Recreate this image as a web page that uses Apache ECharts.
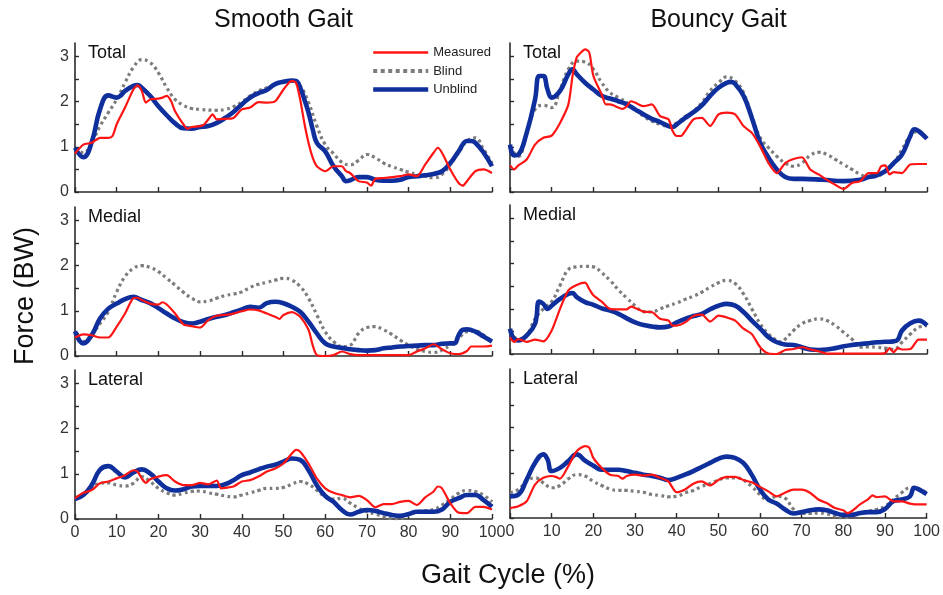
<!DOCTYPE html>
<html>
<head>
<meta charset="utf-8">
<script src="https://cdn.jsdelivr.net/npm/echarts@6/dist/echarts.min.js"></script>
<style>html,body{margin:0;padding:0;background:#fff}#c{width:943px;height:595px}</style>
</head>
<body>
<div id="c"></div>
<script>
// ---------- DATA ----------
const columnTitles = ["Smooth Gait", "Bouncy Gait"];
const rowLabels = ["Total", "Medial", "Lateral"];
const seriesNames = ["Measured", "Blind", "Unblind"];
const xTicks = [0,10,20,30,40,50,60,70,80,90,100];
const yTickLabels = [0,1,2,3];
const yTicks = [0,0.5,1,1.5,2,2.5,3];

// Smooth gait - Total
const smoothTotalMeasured = [[0,0.85],[2,1.05],[4,1.09],[6,1.2],[8,1.2],[9,1.24],[10,1.5],[12,1.87],[14,2.27],[15,2.36],[16,2.24],[17,1.98],[18,2.05],[20,2.07],[21,2.09],[22,2.13],[23,2.02],[24,1.79],[26,1.5],[27,1.4],[28,1.44],[30,1.46],[31,1.5],[32,1.61],[33,1.72],[34,1.61],[36,1.62],[38,1.64],[40,1.83],[42,1.87],[44,1.99],[46,1.98],[48,2.01],[50,2.27],[52,2.46],[53,2.42],[54,2.05],[55,1.53],[56,1.09],[57,0.76],[58,0.57],[60,0.46],[62,0.57],[64,0.57],[65,0.46],[66,0.42],[68,0.24],[70,0.21],[71,0.14],[72,0.29],[74,0.31],[76,0.33],[78,0.35],[80,0.39],[82,0.35],[84,0.61],[86,0.87],[87,0.98],[88,0.87],[90,0.5],[92,0.2],[93,0.14],[94,0.24],[96,0.46],[98,0.5],[100,0.42]];
const smoothTotalBlind = [[0,0.95],[2,0.87],[4,1.09],[6,1.46],[8,1.76],[10,2.05],[12,2.42],[14,2.76],[16,2.93],[18,2.87],[20,2.64],[22,2.31],[24,2.05],[26,1.92],[28,1.85],[30,1.83],[34,1.81],[36,1.83],[38,1.89],[40,1.99],[42,2.13],[44,2.24],[46,2.31],[48,2.39],[50,2.44],[52,2.46],[54,2.35],[56,1.98],[58,1.46],[60,1.05],[62,0.85],[64,0.66],[66,0.6],[68,0.7],[70,0.83],[72,0.76],[74,0.64],[76,0.56],[78,0.5],[80,0.44],[82,0.39],[84,0.35],[86,0.31],[88,0.39],[90,0.61],[92,0.87],[94,1.13],[96,1.2],[98,0.94],[100,0.64]];
const smoothTotalUnblind = [[0,0.98],[2,0.77],[4,1.1],[6,1.83],[8,2.14],[10,2.09],[11,2.14],[12,2.24],[14,2.35],[15,2.37],[16,2.31],[18,2.13],[20,1.9],[22,1.7],[24,1.52],[26,1.41],[28,1.4],[30,1.44],[32,1.46],[34,1.53],[36,1.64],[38,1.77],[40,1.94],[42,2.09],[44,2.19],[46,2.26],[48,2.39],[50,2.44],[52,2.47],[53,2.46],[54,2.31],[55,2.05],[56,1.76],[57,1.39],[58,1.09],[60,0.9],[62,0.57],[64,0.35],[65,0.24],[66,0.26],[68,0.33],[70,0.33],[72,0.27],[74,0.25],[76,0.25],[78,0.27],[80,0.33],[82,0.35],[84,0.37],[86,0.4],[88,0.46],[90,0.64],[92,0.9],[94,1.13],[95,1.13],[96,1.09],[98,0.87],[100,0.57]];

// Bouncy gait - Total
const bouncyTotalMeasured = [[0,0.59],[1,0.5],[2,0.59],[4,0.72],[6,1.05],[8,1.2],[10,1.25],[12,1.53],[14,1.94],[15,2.57],[16,2.98],[17,3.09],[18,3.16],[19,3.09],[20,2.57],[22,2.16],[23,1.94],[24,1.94],[26,1.87],[27,1.84],[28,1.9],[29,2.01],[30,1.98],[32,1.9],[34,1.94],[36,1.68],[38,1.61],[39,1.35],[40,1.24],[41,1.24],[42,1.35],[44,1.61],[46,1.64],[48,1.46],[50,1.72],[52,1.76],[54,1.72],[56,1.46],[58,1.31],[60,1.01],[62,0.64],[64,0.42],[66,0.64],[68,0.73],[70,0.77],[72,0.5],[74,0.39],[76,0.27],[78,0.16],[80,0.07],[82,0.2],[84,0.24],[86,0.42],[88,0.42],[89,0.57],[90,0.59],[91,0.39],[92,0.44],[94,0.42],[96,0.61],[98,0.62],[100,0.62]];
const bouncyTotalBlind = [[0,1.0],[2,0.79],[4,1.31],[6,1.83],[8,1.92],[10,1.87],[12,2.27],[14,2.72],[16,2.9],[18,2.88],[20,2.72],[22,2.42],[24,2.2],[26,2.09],[28,1.98],[30,1.83],[32,1.68],[34,1.57],[36,1.5],[38,1.46],[40,1.53],[42,1.67],[44,1.79],[46,1.98],[48,2.24],[50,2.42],[52,2.55],[54,2.46],[56,2.2],[58,1.68],[60,1.2],[62,0.98],[64,0.79],[66,0.64],[68,0.57],[70,0.64],[72,0.81],[74,0.88],[76,0.83],[78,0.72],[80,0.61],[82,0.5],[84,0.39],[86,0.33],[88,0.35],[90,0.46],[92,0.64],[94,0.94],[96,1.24],[98,1.35],[100,1.16]];
const bouncyTotalUnblind = [[0,1.05],[1,0.81],[2,0.83],[4,1.31],[6,2.05],[7,2.57],[8,2.57],[9,2.27],[10,2.09],[12,2.24],[14,2.61],[15,2.72],[16,2.61],[18,2.42],[20,2.27],[22,2.13],[24,2.07],[26,2.01],[28,1.94],[30,1.83],[32,1.72],[34,1.62],[36,1.55],[38,1.46],[39,1.44],[40,1.5],[42,1.64],[44,1.77],[46,1.92],[48,2.13],[50,2.31],[52,2.42],[53,2.44],[54,2.39],[56,2.13],[58,1.64],[60,1.09],[62,0.76],[64,0.5],[66,0.33],[68,0.29],[70,0.29],[75,0.27],[80,0.24],[84,0.27],[86,0.33],[88,0.37],[90,0.46],[92,0.64],[94,0.83],[96,1.24],[97,1.39],[98,1.35],[100,1.18]];

// Smooth gait - Medial
const smoothMedialMeasured = [[0,0.41],[2,0.48],[4,0.46],[6,0.41],[8,0.41],[10,0.65],[12,0.94],[14,1.28],[15,1.29],[16,1.24],[18,1.16],[20,1.14],[21,1.19],[22,1.14],[24,0.94],[26,0.7],[28,0.66],[30,0.63],[32,0.8],[34,0.89],[36,0.91],[38,0.94],[40,0.99],[42,1.03],[44,1.01],[46,0.94],[48,0.87],[49,0.82],[50,0.91],[52,0.97],[54,0.87],[56,0.58],[57,0.24],[58,0.02],[60,0.0],[62,0.02],[64,0.1],[66,0.04],[68,0.02],[72,0.02],[76,0.02],[80,0.02],[82,0.1],[84,0.17],[86,0.26],[88,0.15],[90,0.06],[92,0.04],[94,0.11],[95,0.21],[96,0.21],[98,0.21],[100,0.23]];
const smoothMedialBlind = [[0,0.54],[2,0.32],[4,0.48],[6,0.72],[8,0.98],[10,1.42],[12,1.76],[14,1.94],[16,2.0],[18,1.96],[20,1.87],[22,1.72],[24,1.57],[26,1.41],[28,1.28],[30,1.2],[32,1.22],[34,1.28],[36,1.34],[38,1.37],[40,1.42],[42,1.52],[44,1.59],[46,1.63],[48,1.68],[50,1.72],[52,1.68],[54,1.54],[56,1.28],[58,0.91],[60,0.54],[62,0.32],[64,0.21],[66,0.24],[68,0.5],[70,0.63],[72,0.65],[74,0.58],[76,0.48],[78,0.35],[80,0.24],[82,0.15],[84,0.1],[86,0.08],[88,0.13],[90,0.24],[92,0.39],[94,0.54],[96,0.55],[98,0.46],[100,0.32]];
const smoothMedialUnblind = [[0,0.55],[2,0.28],[4,0.46],[6,0.83],[8,1.05],[10,1.16],[12,1.26],[14,1.31],[16,1.24],[18,1.17],[20,1.06],[22,0.94],[24,0.83],[26,0.75],[28,0.72],[30,0.76],[32,0.82],[34,0.87],[36,0.91],[38,0.97],[40,1.03],[42,1.09],[44,1.07],[46,1.17],[48,1.2],[50,1.17],[52,1.09],[54,0.98],[56,0.76],[58,0.5],[60,0.28],[62,0.21],[64,0.18],[66,0.15],[68,0.13],[70,0.12],[72,0.13],[74,0.17],[76,0.19],[78,0.21],[80,0.22],[82,0.23],[84,0.24],[86,0.24],[88,0.27],[90,0.28],[91,0.28],[92,0.46],[93,0.58],[94,0.59],[96,0.54],[98,0.43],[100,0.32]];

// Bouncy gait - Medial
const bouncyMedialMeasured = [[0,0.37],[1,0.27],[2,0.33],[4,0.27],[6,0.32],[8,0.28],[10,0.52],[12,1.0],[14,1.41],[16,1.53],[18,1.58],[19,1.44],[20,1.3],[22,1.16],[24,1.0],[26,0.99],[28,0.99],[29,1.05],[30,1.02],[32,0.94],[34,0.93],[36,0.78],[38,0.74],[39,0.63],[40,0.63],[42,0.7],[44,0.84],[46,0.87],[48,0.72],[50,0.85],[52,0.81],[54,0.74],[56,0.56],[58,0.44],[60,0.15],[62,0.01],[64,0.0],[66,0.09],[68,0.11],[70,0.15],[72,0.1],[74,0.06],[76,0.01],[80,0.01],[84,0.01],[88,0.01],[90,0.02],[91,0.13],[92,0.04],[93,0.13],[94,0.1],[96,0.11],[98,0.32],[100,0.32]];
const bouncyMedialBlind = [[0,0.48],[2,0.33],[4,0.41],[6,0.78],[8,1.0],[10,1.16],[12,1.52],[14,1.87],[16,1.93],[18,1.94],[20,1.93],[22,1.8],[24,1.63],[26,1.42],[28,1.24],[30,1.07],[32,0.94],[34,0.93],[36,1.0],[38,1.07],[40,1.13],[42,1.21],[44,1.28],[46,1.37],[48,1.48],[50,1.58],[52,1.63],[54,1.56],[56,1.33],[58,1.0],[60,0.67],[62,0.44],[64,0.3],[65,0.27],[66,0.33],[68,0.52],[70,0.67],[72,0.74],[74,0.78],[76,0.74],[78,0.63],[80,0.48],[82,0.33],[84,0.15],[86,0.16],[88,0.15],[90,0.13],[92,0.1],[94,0.26],[96,0.44],[98,0.59],[100,0.63]];
const bouncyMedialUnblind = [[0,0.56],[1,0.33],[2,0.3],[4,0.41],[6,0.67],[7,1.16],[8,1.11],[9,1.0],[10,1.07],[12,1.22],[14,1.33],[15,1.35],[16,1.26],[18,1.15],[20,1.09],[22,1.01],[24,0.96],[26,0.89],[28,0.79],[30,0.7],[32,0.64],[34,0.61],[36,0.59],[38,0.61],[40,0.7],[42,0.78],[44,0.84],[46,0.89],[48,0.99],[50,1.07],[52,1.11],[54,1.07],[56,0.93],[58,0.74],[60,0.56],[62,0.37],[64,0.26],[66,0.21],[68,0.2],[70,0.15],[72,0.1],[74,0.09],[76,0.1],[78,0.13],[80,0.17],[82,0.2],[84,0.22],[86,0.24],[88,0.26],[90,0.27],[92,0.28],[93,0.32],[94,0.52],[96,0.68],[98,0.74],[100,0.63]];

// Smooth gait - Lateral
const smoothLateralMeasured = [[0,0.46],[2,0.58],[4,0.64],[6,0.79],[8,0.83],[10,0.9],[12,0.97],[14,1.08],[15,1.05],[16,0.9],[17,0.8],[18,0.88],[20,0.94],[22,0.97],[24,0.83],[26,0.75],[28,0.75],[30,0.8],[32,0.77],[34,0.85],[35,0.68],[36,0.69],[38,0.72],[40,0.83],[42,0.86],[44,0.94],[46,1.05],[48,1.12],[50,1.23],[52,1.45],[53,1.53],[54,1.49],[56,1.23],[58,0.9],[60,0.68],[62,0.58],[64,0.53],[66,0.48],[68,0.51],[70,0.42],[72,0.26],[74,0.33],[76,0.33],[78,0.38],[80,0.4],[82,0.31],[84,0.48],[86,0.61],[87,0.72],[88,0.68],[90,0.35],[92,0.14],[94,0.13],[96,0.27],[98,0.27],[100,0.21]];
const smoothLateralBlind = [[0,0.44],[2,0.53],[4,0.68],[6,0.79],[8,0.8],[10,0.75],[12,0.73],[14,0.79],[16,0.94],[18,0.83],[20,0.68],[22,0.58],[24,0.53],[26,0.57],[28,0.61],[30,0.62],[32,0.58],[34,0.55],[36,0.51],[38,0.49],[40,0.53],[42,0.58],[44,0.63],[46,0.68],[48,0.68],[50,0.7],[52,0.77],[54,0.83],[56,0.77],[58,0.64],[60,0.49],[62,0.44],[64,0.46],[66,0.35],[68,0.24],[70,0.16],[72,0.11],[74,0.05],[76,0.01],[78,0.01],[80,0.09],[82,0.16],[84,0.18],[86,0.21],[88,0.31],[90,0.44],[92,0.57],[94,0.63],[96,0.61],[98,0.53],[100,0.38]];
const smoothLateralUnblind = [[0,0.44],[2,0.53],[4,0.75],[6,1.09],[8,1.17],[10,1.05],[12,0.92],[14,1.03],[16,1.1],[18,1.01],[20,0.83],[22,0.68],[24,0.63],[26,0.66],[28,0.72],[30,0.73],[32,0.73],[34,0.73],[36,0.77],[38,0.86],[40,0.97],[42,1.03],[44,1.1],[46,1.16],[48,1.2],[50,1.27],[52,1.34],[54,1.31],[56,1.08],[58,0.75],[60,0.51],[62,0.38],[64,0.2],[66,0.1],[68,0.16],[70,0.2],[72,0.18],[74,0.13],[76,0.09],[78,0.07],[80,0.11],[82,0.16],[84,0.16],[86,0.16],[88,0.21],[90,0.38],[92,0.46],[94,0.53],[96,0.53],[98,0.42],[100,0.27]];

// Bouncy gait - Lateral
const bouncyLateralMeasured = [[0,0.22],[2,0.26],[4,0.37],[6,0.74],[8,0.89],[10,0.93],[11,0.91],[12,0.87],[14,1.15],[16,1.48],[18,1.59],[19,1.56],[20,1.33],[22,1.11],[24,0.96],[26,0.93],[27,0.87],[28,0.93],[30,0.96],[32,0.94],[34,0.96],[36,0.89],[38,0.81],[40,0.57],[42,0.63],[44,0.76],[46,0.81],[48,0.72],[50,0.84],[52,0.91],[54,0.91],[56,0.84],[58,0.79],[60,0.69],[62,0.59],[64,0.48],[66,0.56],[68,0.63],[70,0.63],[72,0.56],[74,0.41],[76,0.33],[78,0.22],[80,0.17],[81,0.11],[82,0.15],[84,0.3],[86,0.42],[87,0.5],[88,0.46],[90,0.48],[92,0.37],[94,0.37],[96,0.32],[98,0.3],[100,0.3]];
const bouncyLateralBlind = [[0,0.56],[2,0.63],[4,0.81],[6,0.89],[8,0.78],[10,0.67],[12,0.72],[14,0.87],[16,0.96],[18,0.93],[20,0.81],[22,0.72],[24,0.64],[26,0.61],[28,0.61],[30,0.59],[32,0.57],[34,0.52],[36,0.5],[38,0.47],[40,0.48],[42,0.56],[44,0.61],[46,0.7],[48,0.76],[50,0.84],[52,0.89],[54,0.89],[56,0.84],[58,0.7],[60,0.52],[62,0.39],[64,0.48],[66,0.44],[68,0.2],[70,0.1],[72,0.1],[74,0.11],[76,0.09],[78,0.04],[80,0.0],[82,0.05],[84,0.1],[86,0.15],[88,0.19],[90,0.26],[92,0.41],[94,0.56],[96,0.67],[98,0.64],[100,0.56]];
const bouncyLateralUnblind = [[0,0.48],[2,0.52],[4,0.85],[6,1.22],[8,1.41],[9,1.3],[10,1.04],[12,1.11],[14,1.26],[16,1.41],[18,1.27],[20,1.16],[22,1.07],[24,1.07],[26,1.07],[28,1.04],[30,1.0],[32,0.96],[34,0.93],[36,0.89],[38,0.84],[40,0.89],[42,0.96],[44,1.04],[46,1.13],[48,1.22],[50,1.31],[52,1.36],[54,1.33],[56,1.22],[58,0.96],[60,0.63],[62,0.41],[64,0.32],[66,0.19],[68,0.1],[70,0.13],[72,0.17],[74,0.19],[76,0.17],[78,0.11],[80,0.07],[82,0.07],[84,0.11],[86,0.13],[88,0.13],[90,0.2],[92,0.37],[94,0.41],[96,0.48],[97,0.67],[98,0.64],[100,0.53]];

const panelData = [
  [[smoothTotalMeasured, smoothTotalBlind, smoothTotalUnblind],
   [smoothMedialMeasured, smoothMedialBlind, smoothMedialUnblind],
   [smoothLateralMeasured, smoothLateralBlind, smoothLateralUnblind]],
  [[bouncyTotalMeasured, bouncyTotalBlind, bouncyTotalUnblind],
   [bouncyMedialMeasured, bouncyMedialBlind, bouncyMedialUnblind],
   [bouncyLateralMeasured, bouncyLateralBlind, bouncyLateralUnblind]]
];

// ---------- LAYOUT / STYLE ----------
const FONT = "'Liberation Sans', Arial, Helvetica, sans-serif";
const colLeft = [75, 510];
const plotW = 417;
const rowTop = [[43, 207, 370], [43, 205, 369]];
const plotH = 149;
const YMAX = 3.3;
const AXIS_COLOR = '#2a2a2a';
const styles = {
  Measured: { color: '#ff1414', width: 2.2, type: 'solid', smooth: 0.25, z: 4, legendWidth: 2.6, legendType: 'solid' },
  Blind:    { color: '#7c7c7c', width: 3.2, type: [3, 3.2], smooth: 0.45, z: 2, legendWidth: 4, legendType: [4, 3.5] },
  Unblind:  { color: '#0f2f9c', width: 4.6, type: 'solid', smooth: 0.45, z: 3, legendWidth: 4.4, legendType: 'solid' }
};

const grids = [], xAxes = [], yAxes = [], series = [], graphics = [];
let idx = 0;
for (let c = 0; c < 2; c++) {
  for (let r = 0; r < 3; r++) {
    grids.push({ left: colLeft[c], top: rowTop[c][r], width: plotW, height: plotH, containLabel: false });
    xAxes.push({
      type: 'value', gridIndex: idx, min: 0, max: 100, interval: 10,
      axisLine: { show: true, onZero: false, lineStyle: { color: AXIS_COLOR, width: 1.6 } },
      axisTick: { show: true, inside: true, length: 5, lineStyle: { color: AXIS_COLOR, width: 1.4 } },
      axisLabel: { show: r === 2, color: '#333', fontSize: 16, fontFamily: FONT, margin: 6,
                   showMinLabel: true, showMaxLabel: true },
      splitLine: { show: false }
    });
    yAxes.push({
      type: 'value', gridIndex: idx, min: 0, max: YMAX,
      axisLine: { show: true, lineStyle: { color: AXIS_COLOR, width: 1.6 } },
      axisTick: { show: true, inside: true, length: 4, customValues: yTicks, lineStyle: { color: AXIS_COLOR, width: 1.4 } },
      axisLabel: { show: c === 0, customValues: yTickLabels, color: '#333', fontSize: 16, fontFamily: FONT, margin: 6 },
      splitLine: { show: false }
    });
    const data = panelData[c][r];
    // draw order: Blind, Unblind, Measured
    [1, 2, 0].forEach(k => {
      const name = seriesNames[k];
      const s = styles[name];
      series.push({
        type: 'line', name: name, xAxisIndex: idx, yAxisIndex: idx,
        data: data[k], showSymbol: false, symbol: 'none', smooth: s.smooth, z: s.z,
        lineStyle: { color: s.color, width: s.width, type: s.type, cap: 'butt' },
        itemStyle: { color: s.color },
        animation: false, silent: true
      });
    });
    graphics.push({
      type: 'text', x: colLeft[c] + 13, y: rowTop[c][r] + 10,
      style: { text: rowLabels[r], font: '18px ' + FONT, fill: '#111', textVerticalAlign: 'middle' }
    });
    idx++;
  }
  graphics.push({
    type: 'text', x: colLeft[c] + plotW / 2, y: 20,
    style: { text: columnTitles[c], font: '25px ' + FONT, fill: '#111', textAlign: 'center', textVerticalAlign: 'middle' }
  });
}
graphics.push({
  type: 'text', x: 26, y: 296, rotation: Math.PI / 2,
  style: { text: 'Force (BW)', font: '27px ' + FONT, fill: '#111', textAlign: 'center', textVerticalAlign: 'middle' }
});
graphics.push({
  type: 'text', x: 508, y: 576,
  style: { text: 'Gait Cycle (%)', font: '27px ' + FONT, fill: '#111', textAlign: 'center', textVerticalAlign: 'middle' }
});

const legendData = seriesNames.map(n => ({
  name: n,
  itemStyle: { opacity: 0, borderWidth: 0 },
  lineStyle: { color: styles[n].color, width: styles[n].legendWidth, type: styles[n].legendType, cap: 'butt' }
}));

const chart = echarts.init(document.getElementById('c'), null, { renderer: 'canvas' });
chart.setOption({
  backgroundColor: '#fff',
  animation: false,
  grid: grids,
  xAxis: xAxes,
  yAxis: yAxes,
  series: series,
  legend: {
    data: legendData, orient: 'vertical', left: 371, top: 46, padding: 0,
    itemWidth: 55, itemHeight: 14, itemGap: 5.5,
    textStyle: { fontSize: 13, fontFamily: FONT, color: '#222' },
    selectedMode: false
  },
  graphic: graphics
});
</script>
</body>
</html>
